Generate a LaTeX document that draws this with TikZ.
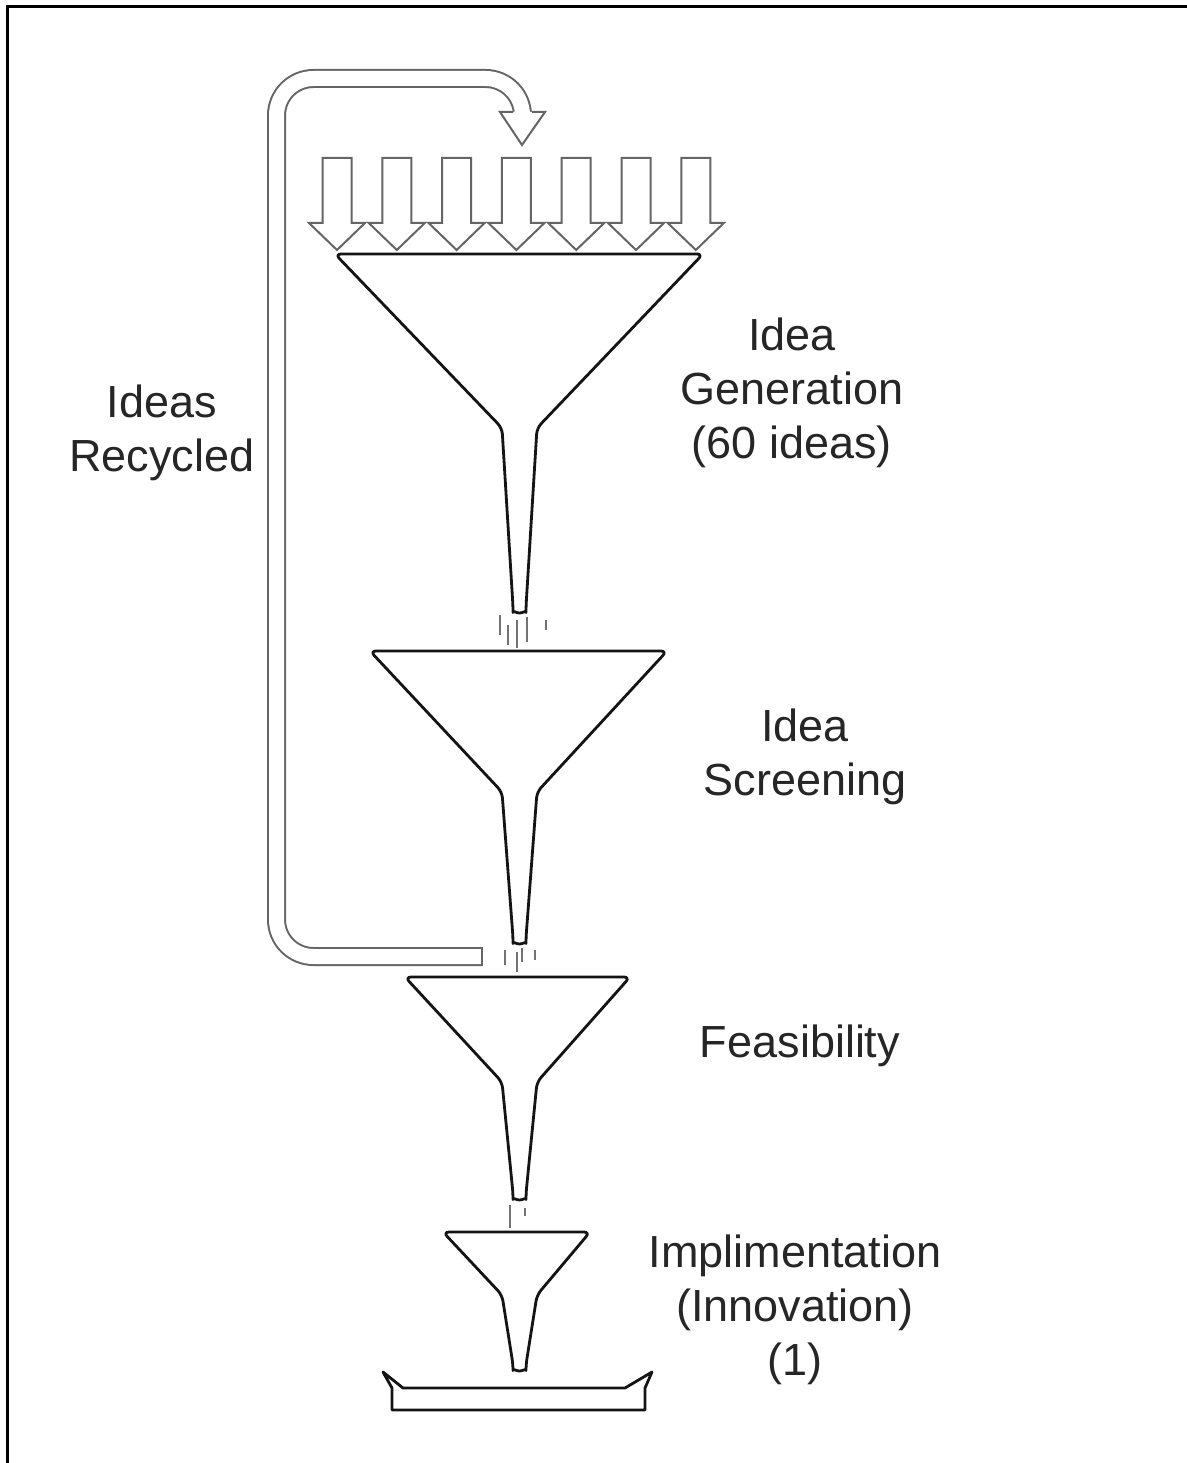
\documentclass[tikz,border=0pt]{standalone}
\usepackage{fontspec}
\setmainfont{Liberation Sans}
\definecolor{ink}{HTML}{141414}
\definecolor{pipe}{HTML}{656565}
\definecolor{label}{HTML}{262626}
\begin{document}
\begin{tikzpicture}[x=1pt,y=-1pt,
  funnel/.style={draw=ink,line width=2.8pt,line join=round,fill=white,rounded corners=6pt},
  feeder/.style={draw=pipe,line width=2pt,line join=miter,fill=white},
  drip/.style={draw=ink!60,line width=1.5pt},
  lbl/.style={font=\fontsize{45}{54}\selectfont,text=label,align=center,inner sep=0pt}]
\useasboundingbox (0,0) rectangle (1186,1463);
\fill[white] (0,0) rectangle (1186,1463);
% frame (top and left edges)
\draw[line width=3pt] (7,1470) -- (7,7) -- (1190,7);

% recycling pipe: outline stroke, hollow core, closed tail and arrow head
\draw[pipe,line width=19pt,rounded corners=37pt]
  (482,956.5) -- (276.5,956.5) -- (276.5,78.5) -- (522.5,78.5) -- (522.5,122);
\draw[white,line width=15pt,rounded corners=37pt]
  (482,956.5) -- (276.5,956.5) -- (276.5,78.5) -- (522.5,78.5) -- (522.5,122);
\draw[pipe,line width=2pt] (482,947) -- (482,966);
\fill[white] (500,112) -- (545,112) -- (522,145) -- cycle;
\draw[feeder] (513,112) -- (500,112) -- (522,145) -- (545,112) -- (532,112);

% row of incoming idea arrows
\foreach \k in {0,...,6}{
  \pgfmathsetmacro\c{337+59.8*\k}
  \filldraw[feeder] (\c-14.5,158) -- (\c+14.5,158) -- (\c+14.5,223) -- (\c+28,223)
    -- (\c,250) -- (\c-28,223) -- (\c-14.5,223) -- cycle;
}

% funnels: rim left x / rim right x / rim y / neck y / tip y
\foreach \l/\r/\ry/\ny/\ty in {335/703/254/428/613, 370/667/651/792/944,
                               405/630/977/1082/1200, 443/590/1232/1295/1371}{
  \draw[funnel] (\l,\ry) -- (502,\ny) -- (513,\ty-6.5)
    arc[start angle=180,end angle=360,radius=6.5pt]
    -- (537,\ny) -- (\r,\ry) -- cycle;
}

% drips below the spouts
\foreach \x/\a/\b in {500/615/635, 508/625/645, 517/620/648, 527/617/642, 546/620/630,
                      505/950/965, 517/952/972, 522/948/962, 535/950/960,
                      510/1205/1228, 525/1208/1216}
  \draw[drip] (\x,\a) -- (\x,\b);

% collecting tray
\draw[funnel,rounded corners=0pt] (383,1372) -- (403,1388) -- (625,1388) -- (652,1372)
  -- (645,1388) -- (645,1410) -- (392,1410) -- (392,1388) -- cycle;

% labels
\node[lbl] (recycled) at (162,433) {Ideas\\Recycled};
\node[lbl] (generation) at (792,393) {Idea\\Generation\\(60 ideas)};
\node[lbl] (screening) at (805,757) {Idea\\Screening};
\node[lbl] (feasibility) at (800,1046) {Feasibility};
\node[lbl] (implementation) at (795,1310) {Implimentation\\(Innovation)\\(1)};
\end{tikzpicture}
\end{document}
